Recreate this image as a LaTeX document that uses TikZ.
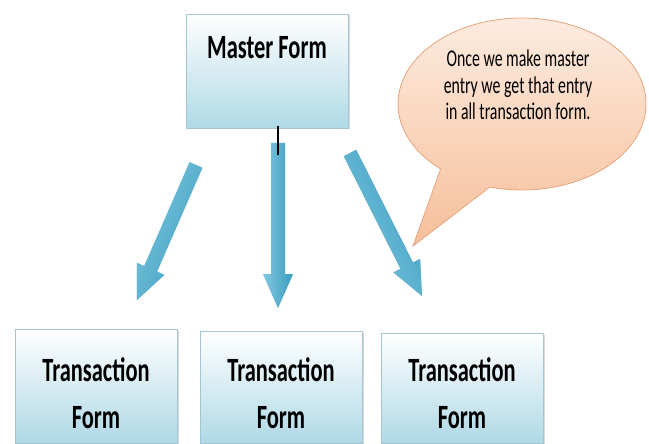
\documentclass[tikz,border=0pt]{standalone}
\usepackage{fontspec}
\setmainfont{Carlito}[FakeStretch=0.66]
\usetikzlibrary{shapes.callouts,shadows,calc}
\definecolor{boxblue}{HTML}{AFD9E6}
\definecolor{boxline}{HTML}{A3C4D0}
\definecolor{peachtop}{HTML}{FDEBDF}
\definecolor{peachbot}{HTML}{F6BF9A}
\definecolor{peachline}{HTML}{E6A47F}
\definecolor{arrowlight}{HTML}{80C9DF}
\definecolor{arrowdark}{HTML}{3A9BC0}
\definecolor{arrowshade}{HTML}{2C7C9A}
\newcommand{\blockarrow}[3]{%
  \coordinate (p1) at ($(#1)!7pt!90:(#2)$);
  \coordinate (p2) at ($(#1)!7pt!-90:(#2)$);
  \coordinate (hb) at ($(#2)!34pt!(#1)$);
  \coordinate (q1) at ($(hb)!7pt!90:(#2)$);
  \coordinate (q2) at ($(hb)!7pt!-90:(#2)$);
  \coordinate (r1) at ($(hb)!15pt!90:(#2)$);
  \coordinate (r2) at ($(hb)!15pt!-90:(#2)$);
  \fill[arrowshade, opacity=0.5, xshift=2pt, yshift=-2pt]
    (p1) -- (q1) -- (r1) -- (#2) -- (r2) -- (q2) -- (p2) -- cycle;
  \shade[left color=arrowlight, right color=arrowdark, shading angle=#3]
    (p1) -- (q1) -- (r1) -- (#2) -- (r2) -- (q2) -- (p2) -- cycle;
}
\tikzset{
  formbox/.style={rectangle, draw=boxline, line width=0.8pt,
    top color=white, bottom color=boxblue, inner sep=0pt,
    minimum width=162pt,
    drop shadow={shadow xshift=1.5pt, shadow yshift=-1.5pt, opacity=0.3}},
  formtext/.style={font=\bfseries\fontsize{34}{47}\selectfont, align=center, inner sep=0pt},
  notetext/.style={font=\fontsize{24}{26.5}\selectfont, align=center, inner sep=0pt},
  tickline/.style={draw=black, line width=1.4pt}
}
\begin{document}
\begin{tikzpicture}[x=1pt,y=-1pt]
\useasboundingbox (0,0) rectangle (649,444);
% master
\node[formbox, minimum height=114pt] (master) at (267,71) {};
\node[formtext] (mastertext) at (267,48) {Master Form};
% transaction boxes
\node[formbox, minimum height=114pt] (t1) at (96,386) {};
\node[formbox, minimum height=112pt] (t2) at (281,387) {};
\node[formbox, minimum height=110pt] (t3) at (462,388) {};
\node[formtext] (t1text) at (96,393) {Transaction\\Form};
\node[formtext] (t2text) at (281,393) {Transaction\\Form};
\node[formtext] (t3text) at (462,393) {Transaction\\Form};
% callout
\coordinate (ctip) at (413,246);
\node[ellipse callout, draw=peachline, line width=0.8pt,
  top color=peachtop, bottom color=peachbot,
  minimum width=248pt, minimum height=172pt, inner sep=0pt,
  callout absolute pointer={(ctip)}, callout pointer arc=26] (note) at (522,104) {};
\node[notetext] (notetxt) at (518,85) {Once we make master\\entry we get that entry\\in all transaction form.};
% arrows
\coordinate (a1s) at (196,165);
\coordinate (a1e) at (137,300);
\coordinate (a2s) at (278,143);
\coordinate (a2e) at (278,308);
\coordinate (a3s) at (350,153);
\coordinate (a3e) at (422,296);
\blockarrow{a1s}{a1e}{66}
\blockarrow{a2s}{a2e}{90}
\blockarrow{a3s}{a3e}{117}
% tick
\coordinate (tk1) at (278,126);
\coordinate (tk2) at (278,155);
\draw[tickline] (tk1) -- (tk2);
\end{tikzpicture}
\end{document}
